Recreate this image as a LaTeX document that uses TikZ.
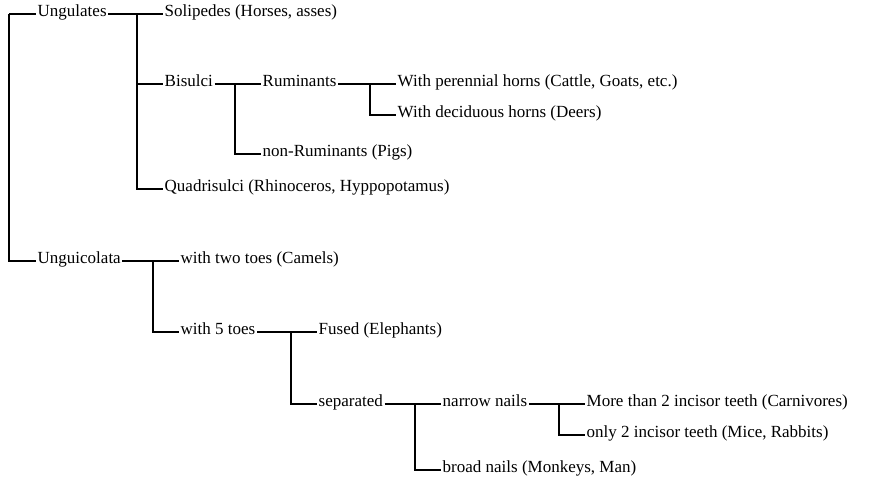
\documentclass[tikz,border=0pt]{standalone}
\usepackage{fontspec}
\setmainfont{Liberation Serif}
\usetikzlibrary{positioning}

\tikzset{
    taxon/.style={anchor=west, inner sep=1.5pt, text height=0.7em, text depth=0.25em,
        font=\fontsize{17}{20}\selectfont},
    branch/.style={line width=1.1pt},
}

\begin{document}
\begin{tikzpicture}[node distance=26pt]
    \useasboundingbox (0,0) rectangle (872pt,-481pt);
    % first level
    \node[taxon] (ungulates) at (36pt,-14pt) {Ungulates};
    \node[taxon] (unguicolata) [below=247pt of ungulates.west, anchor=west] {Unguicolata};
    \coordinate[left=27pt of ungulates.west] (root);
    % ungulates
    \node[taxon] (solipedes) at (163pt,-14pt) {Solipedes (Horses, asses)};
    \node[taxon] (bisulci) [below=70pt of solipedes.west, anchor=west] {Bisulci};
    \node[taxon] (quadrisulci) [below=105pt of bisulci.west, anchor=west] {Quadrisulci (Rhinoceros, Hyppopotamus)};
    \node[taxon] (ruminants) at (261pt,-84pt) {Ruminants};
    \node[taxon] (non ruminants) [below=70pt of ruminants.west, anchor=west] {non-Ruminants (Pigs)};
    \node[taxon] (perennial) at (396pt,-84pt) {With perennial horns (Cattle, Goats, etc.)};
    \node[taxon] (deciduous) [below=31pt of perennial.west, anchor=west] {With deciduous horns (Deers)};
    % unguicolata
    \node[taxon] (two toes) at (179pt,-261pt) {with two toes (Camels)};
    \node[taxon] (five toes) [below=71pt of two toes.west, anchor=west] {with 5 toes};
    \node[taxon] (fused) at (317pt,-332pt) {Fused (Elephants)};
    \node[taxon] (separated) [below=72pt of fused.west, anchor=west] {separated};
    \node[taxon] (narrow) at (441pt,-404pt) {narrow nails};
    \node[taxon] (broad) [below=66pt of narrow.west, anchor=west] {broad nails (Monkeys, Man)};
    \node[taxon] (carnivores) at (585pt,-404pt) {More than 2 incisor teeth (Carnivores)};
    \node[taxon] (rodents) [below=31pt of carnivores.west, anchor=west] {only 2 incisor teeth (Mice, Rabbits)};

    % forks a little before the first child
    \coordinate[left=of solipedes.west] (ungulates fork);
    \coordinate[left=of ruminants.west] (bisulci fork);
    \coordinate[left=of perennial.west] (ruminants fork);
    \coordinate[left=of two toes.west] (unguicolata fork);
    \coordinate[left=of fused.west] (five toes fork);
    \coordinate[left=of narrow.west] (separated fork);
    \coordinate[left=of carnivores.west] (narrow fork);

    \draw[branch] (root) -- (ungulates.west);
    \draw[branch] (root) |- (unguicolata.west);
    \draw[branch] (ungulates.east) -- (solipedes.west);
    \draw[branch] (ungulates fork) |- (bisulci.west);
    \draw[branch] (ungulates fork) |- (quadrisulci.west);
    \draw[branch] (bisulci.east) -- (ruminants.west);
    \draw[branch] (bisulci fork) |- (non ruminants.west);
    \draw[branch] (ruminants.east) -- (perennial.west);
    \draw[branch] (ruminants fork) |- (deciduous.west);
    \draw[branch] (unguicolata.east) -- (two toes.west);
    \draw[branch] (unguicolata fork) |- (five toes.west);
    \draw[branch] (five toes.east) -- (fused.west);
    \draw[branch] (five toes fork) |- (separated.west);
    \draw[branch] (separated.east) -- (narrow.west);
    \draw[branch] (separated fork) |- (broad.west);
    \draw[branch] (narrow.east) -- (carnivores.west);
    \draw[branch] (narrow fork) |- (rodents.west);
\end{tikzpicture}
\end{document}
